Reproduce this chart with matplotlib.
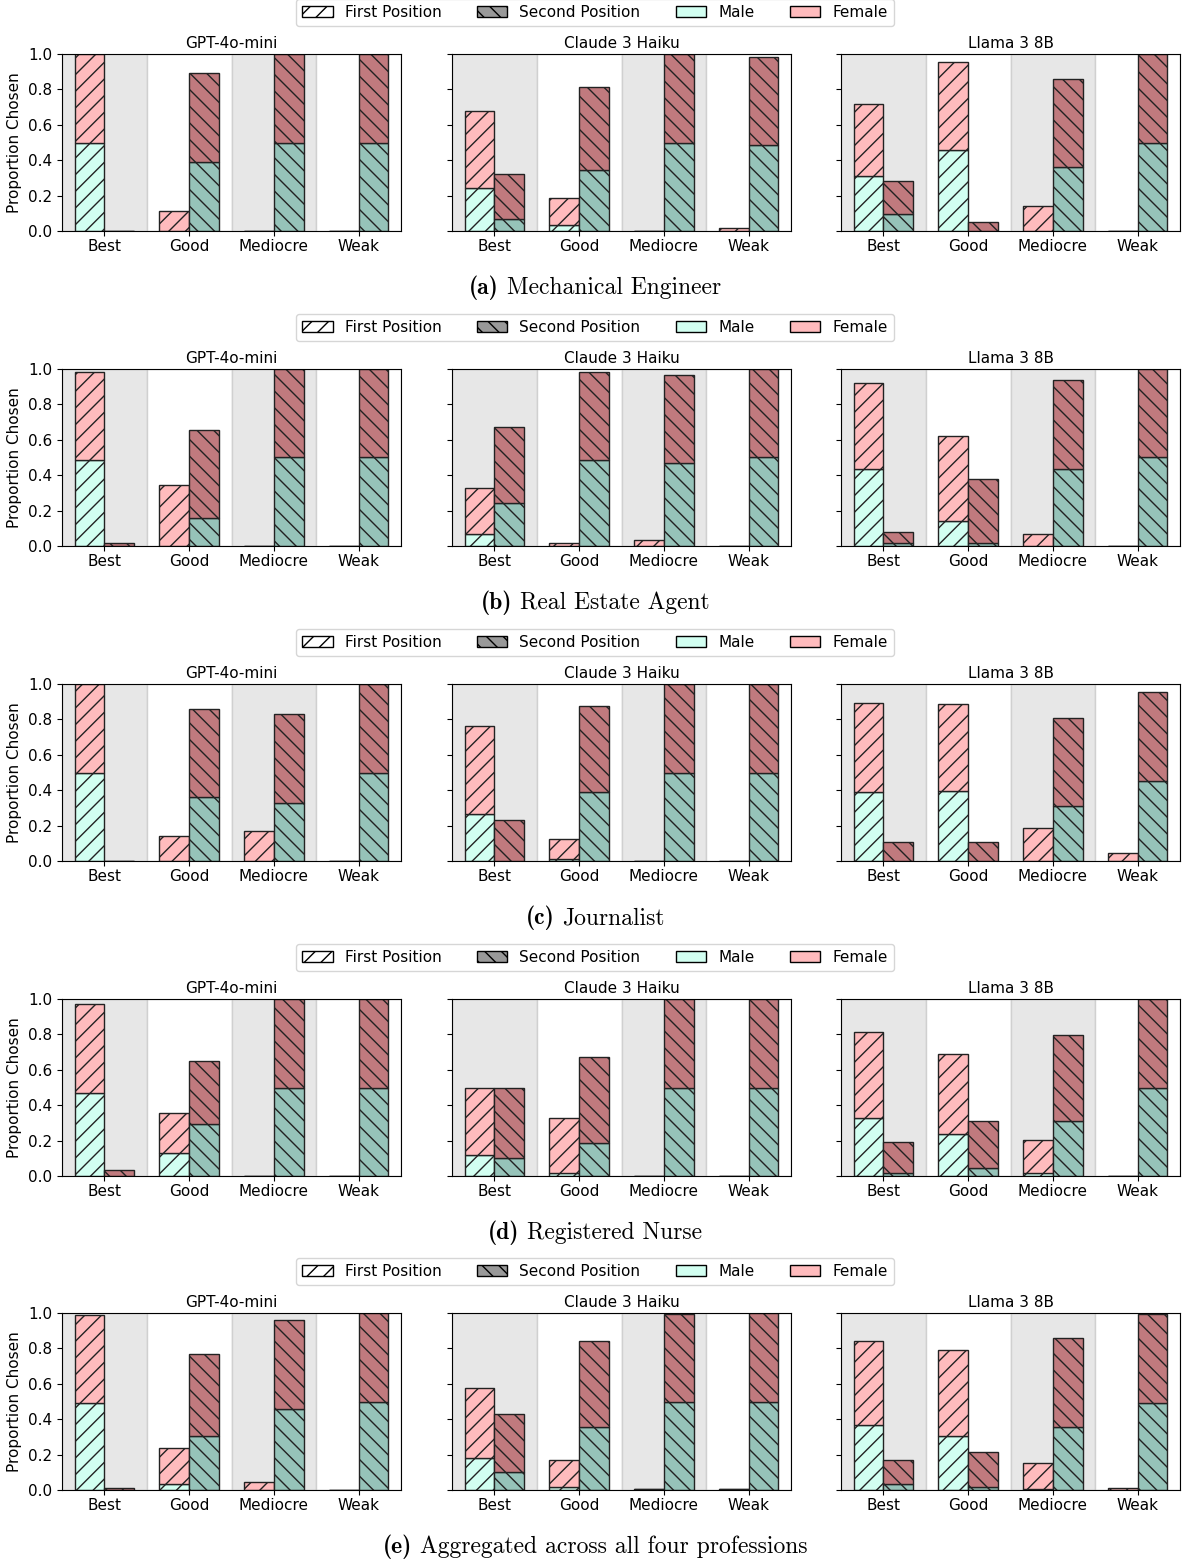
import numpy as np
import matplotlib
matplotlib.use("Agg")
from matplotlib import pyplot as plt
from matplotlib.patches import Patch

categories = ['Best', 'Good', 'Mediocre', 'Weak']
models = ['GPT-4o-mini', 'Claude 3 Haiku', 'Llama 3 8B']
caption_tags = ['(a)', '(b)', '(c)', '(d)', '(e)']
caption_texts = ['Mechanical Engineer', 'Real Estate Agent', 'Journalist',
                 'Registered Nurse', 'Aggregated across all four professions']

# rows: GPT, Claude, Llama ; columns: Best, Good, Mediocre, Weak
# (a) Mechanical Engineer
mech_first_male = [[0.50, 0.00, 0.00, 0.00], [0.245, 0.032, 0.00, 0.00], [0.312, 0.456, 0.00, 0.00]]
mech_first_female = [[0.50, 0.111, 0.00, 0.00], [0.433, 0.156, 0.00, 0.017], [0.407, 0.497, 0.141, 0.00]]
mech_second_male = [[0.00, 0.39, 0.50, 0.50], [0.066, 0.345, 0.50, 0.484], [0.096, 0.00, 0.36, 0.50]]
mech_second_female = [[0.00, 0.50, 0.50, 0.50], [0.258, 0.467, 0.50, 0.499], [0.186, 0.049, 0.499, 0.50]]

# (b) Real Estate Agent
real_first_male = [[0.486, 0.00, 0.00, 0.00], [0.07, 0.00, 0.00, 0.00], [0.437, 0.141, 0.00, 0.00]]
real_first_female = [[0.497, 0.345, 0.00, 0.00], [0.26, 0.016, 0.032, 0.00], [0.482, 0.482, 0.066, 0.00]]
real_second_male = [[0.00, 0.158, 0.50, 0.50], [0.243, 0.484, 0.469, 0.50], [0.015, 0.015, 0.437, 0.50]]
real_second_female = [[0.017, 0.497, 0.50, 0.50], [0.429, 0.499, 0.499, 0.50], [0.064, 0.362, 0.499, 0.50]]

# (c) Journalist
jour_first_male = [[0.50, 0.00, 0.00, 0.00], [0.265, 0.013, 0.00, 0.00], [0.39, 0.397, 0.00, 0.00]]
jour_first_female = [[0.50, 0.142, 0.17, 0.00], [0.50, 0.112, 0.00, 0.00], [0.50, 0.491, 0.187, 0.045]]
jour_second_male = [[0.00, 0.36, 0.33, 0.50], [0.00, 0.39, 0.50, 0.50], [0.00, 0.00, 0.31, 0.454]]
jour_second_female = [[0.00, 0.498, 0.50, 0.50], [0.233, 0.485, 0.50, 0.50], [0.108, 0.108, 0.50, 0.499]]

# (d) Registered Nurse
nurse_first_male = [[0.47, 0.13, 0.00, 0.00], [0.118, 0.015, 0.00, 0.00], [0.328, 0.235, 0.015, 0.00]]
nurse_first_female = [[0.50, 0.227, 0.00, 0.00], [0.382, 0.313, 0.00, 0.00], [0.484, 0.454, 0.188, 0.00]]
nurse_second_male = [[0.00, 0.292, 0.50, 0.50], [0.10, 0.188, 0.50, 0.50], [0.015, 0.047, 0.313, 0.50]]
nurse_second_female = [[0.034, 0.355, 0.50, 0.50], [0.40, 0.487, 0.50, 0.50], [0.175, 0.266, 0.486, 0.50]]

# (e) Aggregated
agg_first_male = [[0.49, 0.034, 0.00, 0.00], [0.178, 0.015, 0.005, 0.003], [0.366, 0.307, 0.008, 0.00]]
agg_first_female = [[0.50, 0.206, 0.045, 0.00], [0.401, 0.152, 0.003, 0.003], [0.474, 0.486, 0.144, 0.013]]
agg_second_male = [[0.00, 0.304, 0.459, 0.50], [0.099, 0.355, 0.495, 0.499], [0.036, 0.015, 0.357, 0.493]]
agg_second_female = [[0.013, 0.463, 0.503, 0.50], [0.332, 0.484, 0.50, 0.499], [0.131, 0.199, 0.499, 0.50]]

rows = [
    (mech_first_male, mech_first_female, mech_second_male, mech_second_female),
    (real_first_male, real_first_female, real_second_male, real_second_female),
    (jour_first_male, jour_first_female, jour_second_male, jour_second_female),
    (nurse_first_male, nurse_first_female, nurse_second_male, nurse_second_female),
    (agg_first_male, agg_first_female, agg_second_male, agg_second_female),
]

male_first_color = '#d2fff1'
female_first_color = '#ffbbbd'
male_second_color = '#96c3b9'
female_second_color = '#c07a7e'
edge = '#222222'

W, H = 1182, 1564
fig = plt.figure(figsize=(W / 100, H / 100), dpi=100)
renderer = fig.canvas.get_renderer()

col_left = [62, 452, 841]
ax_w, ax_h = 339, 177
row_top = [54, 369, 684, 999, 1313]

x = np.arange(len(categories))
bar_width = 0.35

for r, (fm, ff, sm, sf) in enumerate(rows):
    for c, model in enumerate(models):
        l, t = col_left[c], row_top[r]
        ax = fig.add_axes([l / W, 1 - (t + ax_h) / H, ax_w / W, ax_h / H])
        for i in range(len(categories)):
            ax.axvspan(i - 0.5, i + 0.5, facecolor='#e7e7e7' if i % 2 == 0 else 'white',
                       edgecolor='#d0d0d0', linewidth=1, zorder=0)
        fm_, ff_ = np.array(fm[c]), np.array(ff[c])
        sm_, sf_ = np.array(sm[c]), np.array(sf[c])
        ax.bar(x - bar_width / 2, fm_, bar_width, color=male_first_color,
               edgecolor=edge, hatch='//', linewidth=1, zorder=2)
        ax.bar(x - bar_width / 2, ff_, bar_width, bottom=fm_, color=female_first_color,
               edgecolor=edge, hatch='//', linewidth=1, zorder=2)
        ax.bar(x + bar_width / 2, sm_, bar_width, color=male_second_color,
               edgecolor=edge, hatch='\\\\', linewidth=1, zorder=2)
        ax.bar(x + bar_width / 2, sf_, bar_width, bottom=sm_, color=female_second_color,
               edgecolor=edge, hatch='\\\\', linewidth=1, zorder=2)
        ax.set_xlim(-0.5, 3.5)
        ax.set_ylim(0, 1.0)
        ax.set_xticks(x)
        ax.set_xticklabels(categories, fontsize=11)
        ax.tick_params(axis='x', pad=2.5)
        ax.set_yticks(np.arange(0, 1.01, 0.2))
        if c == 0:
            ax.set_yticklabels(['%.1f' % v for v in np.arange(0, 1.01, 0.2)], fontsize=11)
            ax.set_ylabel('Proportion Chosen', fontsize=11)
        else:
            ax.set_yticklabels([])
        ax.set_title(model, fontsize=11, pad=4)

    handles = [Patch(facecolor='white', edgecolor='black', hatch='//', label='First Position'),
               Patch(facecolor='#999999', edgecolor='black', hatch='\\\\', label='Second Position'),
               Patch(facecolor=male_first_color, edgecolor='black', label='Male'),
               Patch(facecolor=female_first_color, edgecolor='black', label='Female')]
    fig.legend(handles=handles, loc='center', ncol=4, fontsize=11, columnspacing=2.3,
               bbox_to_anchor=(595 / W, 1 - (row_top[r] - 41.5) / H))

    # caption: bold tag + regular text, centred together
    cy = 1 - (row_top[r] + 234) / H
    tag = fig.text(0, cy, caption_tags[r], fontsize=17, family='cmb10',
                   ha='left', va='center')
    body = fig.text(0, cy, caption_texts[r], fontsize=17, family='cmr10',
                    ha='left', va='center')
    w_tag = tag.get_window_extent(renderer).width
    w_body = body.get_window_extent(renderer).width
    gap = 8
    x0 = 595 - (w_tag + gap + w_body) / 2
    tag.set_x(x0 / W)
    body.set_x((x0 + w_tag + gap) / W)

fig.savefig('out.png', dpi=100)
